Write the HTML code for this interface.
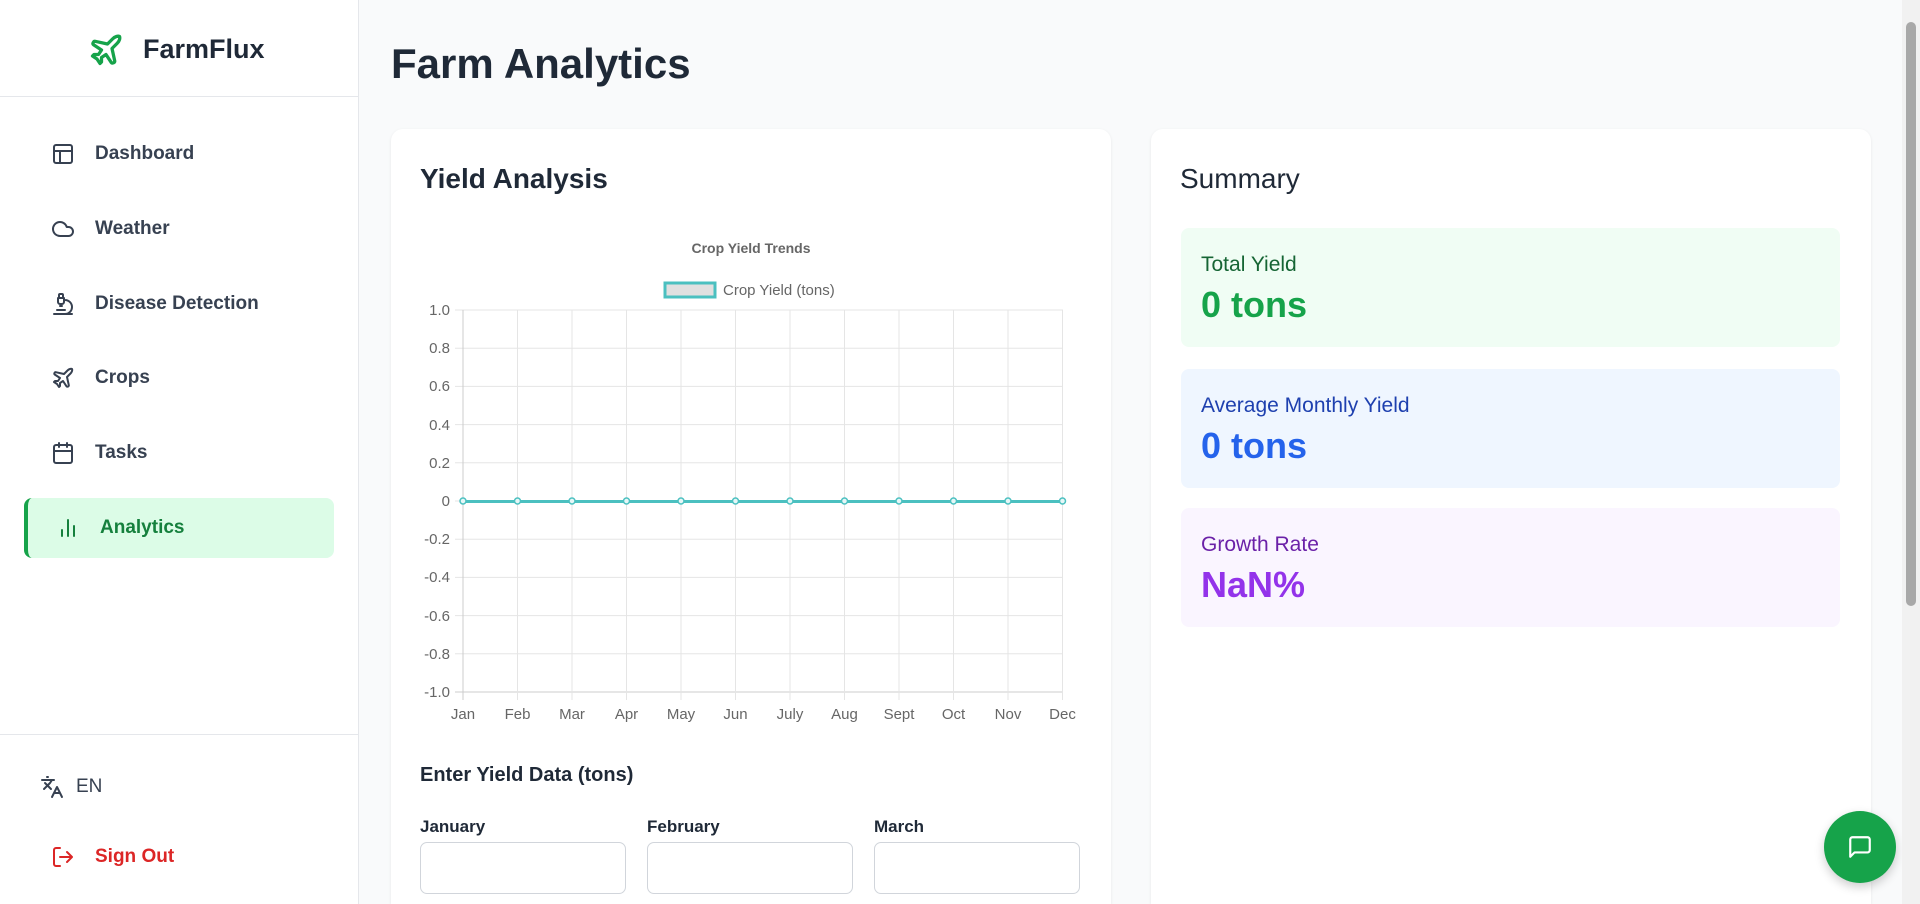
<!DOCTYPE html>
<html style="overflow:hidden;width:1920px;height:904px"><head><meta charset="utf-8"><style>
*{box-sizing:border-box;margin:0;padding:0}
body{width:1920px;height:904px;overflow:hidden;background:#f9fafb;font-family:"Liberation Sans",sans-serif;color:#1f2937;position:relative}
.abs{position:absolute}
.side{left:0;top:0;width:359px;height:904px;background:#fff;border-right:1px solid #e5e7eb}
.nav{position:absolute;left:51px;font-size:19px;font-weight:600;color:#374151;display:flex;align-items:center;height:30px}
.nav svg{width:24px;height:24px;margin-right:20px;stroke:#374151;fill:none;stroke-width:2;stroke-linecap:round;stroke-linejoin:round}
.card{background:#fff;border-radius:12px 12px 0 0;box-shadow:0 1px 3px rgba(0,0,0,.08)}
.lbl{font-size:17px;font-weight:600;color:#1f2937}
.inp{height:52px;border:1px solid #d1d5db;border-radius:7px;background:#fff}
.box{left:1181px;width:659px;height:119px;border-radius:8px}
.box .t{position:absolute;left:20px;top:25px;font-size:21px}
.box .v{position:absolute;left:20px;top:56px;font-size:36px;font-weight:700}
</style></head><body>
<div class="abs side">
 <svg class="abs" style="left:88px;top:32px" width="36" height="36" viewBox="0 0 24 24" fill="none" stroke="#16a34a" stroke-width="2.2" stroke-linecap="round" stroke-linejoin="round"><path d="M17.8 19.2 16 11l3.5-3.5C21 6 21.5 4 21 3c-1-.5-3 0-4.5 1.5L13 8 4.8 6.2c-.5-.1-.9.1-1.1.5l-.3.5c-.2.5-.1 1 .3 1.3L9 12l-2 3H4l-1 1 3 2 2 3 1-1v-3l3-2 3.5 5.3c.3.4.8.5 1.3.3l.5-.2c.4-.3.6-.7.5-1.2z"/></svg>
 <div class="abs" style="left:143px;top:34px;font-size:27px;font-weight:700;color:#1f2937">FarmFlux</div>
 <div class="abs" style="left:0;top:96px;width:359px;border-top:1px solid #e5e7eb"></div>
 <div class="nav" style="top:139px"><svg viewBox="0 0 24 24"><rect x="3" y="3" width="18" height="18" rx="2"/><path d="M3 9h18M9 21V9"/></svg>Dashboard</div>
 <div class="nav" style="top:214px"><svg viewBox="0 0 24 24"><path d="M17.5 19H9a7 7 0 1 1 6.7-9h1.8a4.5 4.5 0 1 1 0 9z"/></svg>Weather</div>
 <div class="nav" style="top:289px"><svg viewBox="0 0 24 24"><path d="M6 18h8M3 22h18M14 22a7 7 0 1 0 0-14h-1M9 14h2M9 12a2 2 0 0 1-2-2V6h6v4a2 2 0 0 1-2 2zM12 6V3a1 1 0 0 0-1-1H9a1 1 0 0 0-1 1v3"/></svg>Disease Detection</div>
 <div class="nav" style="top:363px"><svg viewBox="0 0 24 24"><path d="M17.8 19.2 16 11l3.5-3.5C21 6 21.5 4 21 3c-1-.5-3 0-4.5 1.5L13 8 4.8 6.2c-.5-.1-.9.1-1.1.5l-.3.5c-.2.5-.1 1 .3 1.3L9 12l-2 3H4l-1 1 3 2 2 3 1-1v-3l3-2 3.5 5.3c.3.4.8.5 1.3.3l.5-.2c.4-.3.6-.7.5-1.2z"/></svg>Crops</div>
 <div class="nav" style="top:438px"><svg viewBox="0 0 24 24"><rect x="3" y="4" width="18" height="18" rx="2"/><path d="M16 2v4M8 2v4M3 10h18"/></svg>Tasks</div>
 <div class="abs" style="left:24px;top:498px;width:310px;height:60px;background:#dcfce7;border-left:4px solid #16a34a;border-radius:8px"></div>
 <div class="nav" style="top:513px;left:56px;color:#15803d"><svg viewBox="0 0 24 24" style="stroke:#15803d"><path d="M18 20V10M12 20V4M6 20v-6"/></svg>Analytics</div>
 <div class="abs" style="left:0;top:734px;width:359px;border-top:1px solid #e5e7eb"></div>
 <div class="nav" style="top:772px;left:40px;font-weight:400;color:#374151"><svg viewBox="0 0 24 24" style="margin-right:12px"><path d="m5 8 6 6M4 14l6-6 2-3M2 5h12M7 2h1M22 22l-5-10-5 10M14 18h6"/></svg>EN</div>
 <div class="nav" style="top:842px;color:#dc2626"><svg viewBox="0 0 24 24" style="stroke:#dc2626"><path d="M9 21H5a2 2 0 0 1-2-2V5a2 2 0 0 1 2-2h4M16 17l5-5-5-5M21 12H9"/></svg>Sign Out</div>
</div>
<div class="abs" style="left:391px;top:40px;font-size:42px;font-weight:700;color:#1f2937">Farm Analytics</div>
<div class="abs card" style="left:391px;top:129px;width:720px;height:775px"></div>
<div class="abs" style="left:420px;top:163px;font-size:28px;font-weight:600">Yield Analysis</div>
<svg class="abs" style="left:0;top:0" width="1920" height="904" font-family="Liberation Sans,sans-serif">
 <text x="751" y="253" text-anchor="middle" font-size="14" font-weight="bold" fill="#666">Crop Yield Trends</text>
 <rect x="665" y="283" width="50" height="14" fill="#e0e0e0" stroke="#4bc0c0" stroke-width="3"/>
 <text x="723" y="295" font-size="15" fill="#666">Crop Yield (tons)</text>
 <g stroke="#e5e5e5" stroke-width="1">
  <line x1="455" y1="310" x2="1063" y2="310"/><line x1="455" y1="348.2" x2="1063" y2="348.2"/><line x1="455" y1="386.4" x2="1063" y2="386.4"/><line x1="455" y1="424.6" x2="1063" y2="424.6"/><line x1="455" y1="462.8" x2="1063" y2="462.8"/><line x1="455" y1="501" x2="1063" y2="501"/><line x1="455" y1="539.2" x2="1063" y2="539.2"/><line x1="455" y1="577.4" x2="1063" y2="577.4"/><line x1="455" y1="615.6" x2="1063" y2="615.6"/><line x1="455" y1="653.8" x2="1063" y2="653.8"/><line x1="455" y1="692" x2="1063" y2="692" stroke="#ccc"/>
  <line x1="463" y1="310" x2="463" y2="700" stroke="#ccc"/><line x1="517.5" y1="310" x2="517.5" y2="700"/><line x1="572" y1="310" x2="572" y2="700"/><line x1="626.5" y1="310" x2="626.5" y2="700"/><line x1="681" y1="310" x2="681" y2="700"/><line x1="735.5" y1="310" x2="735.5" y2="700"/><line x1="790" y1="310" x2="790" y2="700"/><line x1="844.5" y1="310" x2="844.5" y2="700"/><line x1="899" y1="310" x2="899" y2="700"/><line x1="953.5" y1="310" x2="953.5" y2="700"/><line x1="1008" y1="310" x2="1008" y2="700"/><line x1="1062.5" y1="310" x2="1062.5" y2="700"/>
 </g>
 <g font-size="15" fill="#666" text-anchor="end">
  <text x="450" y="315">1.0</text><text x="450" y="353">0.8</text><text x="450" y="391">0.6</text><text x="450" y="430">0.4</text><text x="450" y="468">0.2</text><text x="450" y="506">0</text><text x="450" y="544">-0.2</text><text x="450" y="582">-0.4</text><text x="450" y="621">-0.6</text><text x="450" y="659">-0.8</text><text x="450" y="697">-1.0</text>
 </g>
 <g font-size="15" fill="#666" text-anchor="middle">
  <text x="463" y="719">Jan</text><text x="517.5" y="719">Feb</text><text x="572" y="719">Mar</text><text x="626.5" y="719">Apr</text><text x="681" y="719">May</text><text x="735.5" y="719">Jun</text><text x="790" y="719">July</text><text x="844.5" y="719">Aug</text><text x="899" y="719">Sept</text><text x="953.5" y="719">Oct</text><text x="1008" y="719">Nov</text><text x="1062.5" y="719">Dec</text>
 </g>
 <line x1="463" y1="501.5" x2="1062.5" y2="501.5" stroke="#4bc0c0" stroke-width="3"/>
 <g fill="#e6f7f7" stroke="#4bc0c0" stroke-width="1.5">
  <circle cx="463" cy="501" r="3"/><circle cx="517.5" cy="501" r="3"/><circle cx="572" cy="501" r="3"/><circle cx="626.5" cy="501" r="3"/><circle cx="681" cy="501" r="3"/><circle cx="735.5" cy="501" r="3"/><circle cx="790" cy="501" r="3"/><circle cx="844.5" cy="501" r="3"/><circle cx="899" cy="501" r="3"/><circle cx="953.5" cy="501" r="3"/><circle cx="1008" cy="501" r="3"/><circle cx="1062.5" cy="501" r="3"/>
 </g>
</svg>
<div class="abs" style="left:420px;top:764px;font-size:20px;font-weight:600">Enter Yield Data (tons)</div>
<div class="abs lbl" style="left:420px;top:817px">January</div>
<div class="abs lbl" style="left:647px;top:817px">February</div>
<div class="abs lbl" style="left:874px;top:817px">March</div>
<div class="abs inp" style="left:420px;top:842px;width:206px"></div>
<div class="abs inp" style="left:647px;top:842px;width:206px"></div>
<div class="abs inp" style="left:874px;top:842px;width:206px"></div>
<div class="abs card" style="left:1151px;top:129px;width:720px;height:775px"></div>
<div class="abs" style="left:1180px;top:163px;font-size:28px">Summary</div>
<div class="abs box" style="top:228px;background:#f0fdf4"><div class="t" style="color:#166534">Total Yield</div><div class="v" style="color:#16a34a">0 tons</div></div>
<div class="abs box" style="top:369px;background:#eff6ff"><div class="t" style="color:#1e40af">Average Monthly Yield</div><div class="v" style="color:#2563eb">0 tons</div></div>
<div class="abs box" style="top:508px;background:#faf5ff"><div class="t" style="color:#6b21a8">Growth Rate</div><div class="v" style="color:#9333ea">NaN%</div></div>
<div class="abs" style="left:1824px;top:811px;width:72px;height:72px;border-radius:50%;background:#16a34a;box-shadow:0 4px 10px rgba(0,0,0,.2)"></div>
<svg class="abs" style="left:1847px;top:834px" width="26" height="26" viewBox="0 0 24 24" fill="none" stroke="#fff" stroke-width="2" stroke-linejoin="round"><path d="M21 15a2 2 0 0 1-2 2H7l-4 4V5a2 2 0 0 1 2-2h14a2 2 0 0 1 2 2z"/></svg>
<div class="abs" style="left:1902px;top:0;width:18px;height:904px;background:#f1f1f1"></div>
<div class="abs" style="left:1906px;top:22px;width:10px;height:584px;background:#a8a8a8;border-radius:5px"></div>
</body></html>
